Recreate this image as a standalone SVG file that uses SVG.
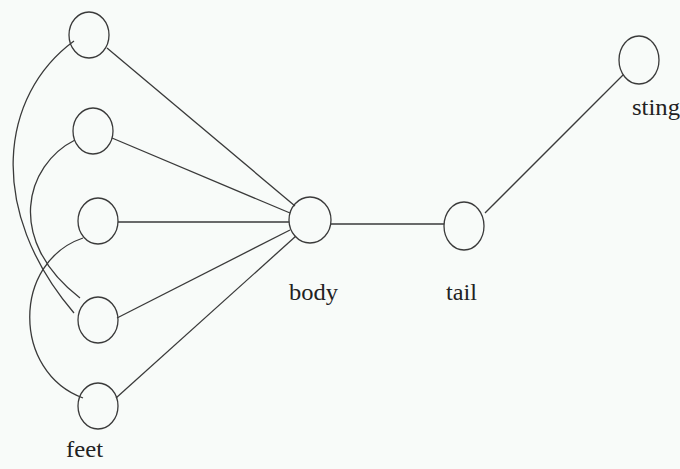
<svg xmlns="http://www.w3.org/2000/svg" width="680" height="469" viewBox="0 0 680 469">
<style>
.n{fill:none;stroke:#3a3a3a;stroke-width:1.3}
.e{fill:none;stroke:#3a3a3a;stroke-width:1.3}
.t{font-family:"Liberation Serif",serif;font-size:24px;fill:#222}
</style>
<rect width="680" height="469" fill="#f8fbf9"/>
<g id="connectors">
<path class="e" d="M107,48 L295,206"/>
<path class="e" d="M112,138 L290,213"/>
<path class="e" d="M118,222 L289,222"/>
<path class="e" d="M117,318 L290,230"/>
<path class="e" d="M116,398 L296,236"/>
<path class="e" d="M331,224 L444,224"/>
<path class="e" d="M485,213 L623,75"/>
<path class="e" d="M74,41 C0,95 -14,210 74,313"/>
<path class="e" d="M75,140 C25,165 5,240 80,298"/>
<path class="e" d="M83,238 C12,262 12,372 83,398"/>
</g>
<g id="foot1"><ellipse class="n" cx="89" cy="35" rx="20" ry="23"/></g>
<g id="foot2"><ellipse class="n" cx="93" cy="131" rx="20" ry="23"/></g>
<g id="foot3"><ellipse class="n" cx="98" cy="221" rx="20" ry="23"/></g>
<g id="foot4"><ellipse class="n" cx="98" cy="320" rx="20" ry="23"/></g>
<g id="foot5"><ellipse class="n" cx="98" cy="406" rx="20" ry="23"/></g>
<g id="body"><ellipse class="n" cx="310" cy="220" rx="21" ry="23"/><text class="t" x="289" y="300" textLength="49" lengthAdjust="spacingAndGlyphs">body</text></g>
<g id="tail"><ellipse class="n" cx="464" cy="226" rx="20" ry="24"/><text class="t" x="446" y="300" textLength="31" lengthAdjust="spacingAndGlyphs">tail</text></g>
<g id="sting"><ellipse class="n" cx="639" cy="60" rx="20" ry="24"/><text class="t" x="632" y="115" textLength="48" lengthAdjust="spacingAndGlyphs">sting</text></g>
<g id="feet-label"><text class="t" x="66" y="457" textLength="37" lengthAdjust="spacingAndGlyphs">feet</text></g>
</svg>
